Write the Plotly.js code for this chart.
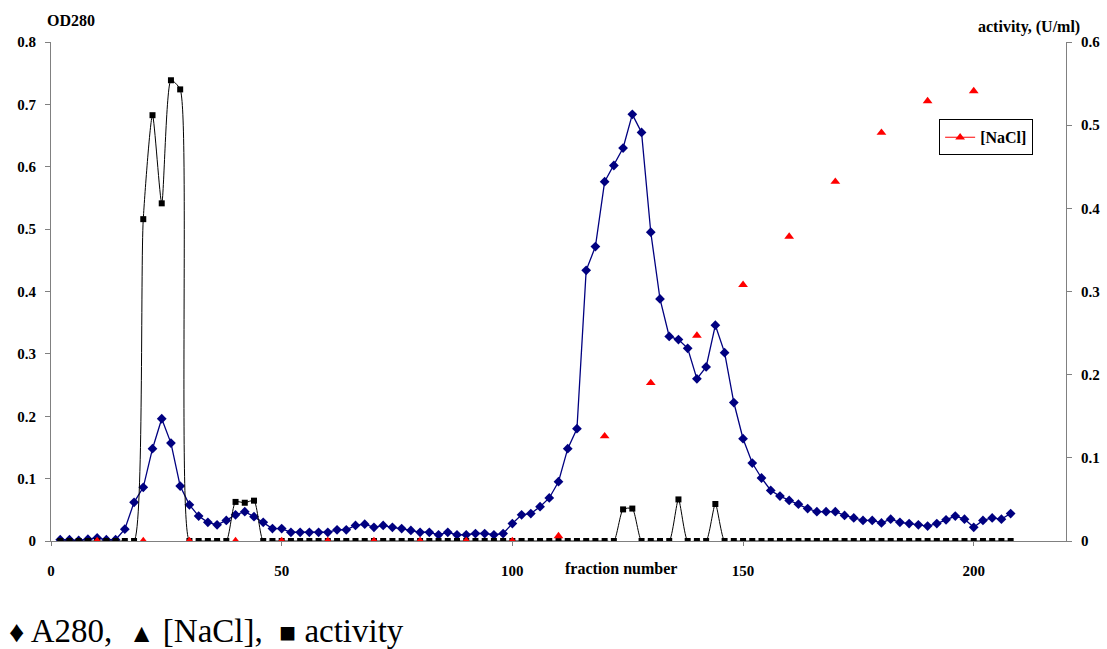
<!DOCTYPE html>
<html>
<head>
<meta charset="utf-8">
<script src="https://cdn.plot.ly/plotly-3.0.1.min.js"></script>
<style>
html,body{margin:0;padding:0;background:#fff;}
#chart{width:1107px;height:649px;}
</style>
</head>
<body>
<div id="chart"></div>
<script>
// fraction numbers
const fractions = [
  2,4,6,8,10,12,14,16,18,20,
  22,24,26,28,30,32,34,36,38,40,
  42,44,46,48,50,52,54,56,58,60,
  62,64,66,68,70,72,74,76,78,80,
  82,84,86,88,90,92,94,96,98,100,
  102,104,106,108,110,112,114,116,118,120,
  122,124,126,128,130,132,134,136,138,140,
  142,144,146,148,150,152,154,156,158,160,
  162,164,166,168,170,172,174,176,178,180,
  182,184,186,188,190,192,194,196,198,200,
  202,204,206,208
];
// A280 (OD280, left axis)
const a280 = [
  0.002,0.002,0.001,0.003,0.005,0.002,0.002,0.019,0.062,0.086,
  0.148,0.196,0.157,0.088,0.058,0.040,0.030,0.026,0.033,0.042,
  0.047,0.039,0.030,0.020,0.020,0.014,0.014,0.014,0.014,0.014,
  0.018,0.018,0.025,0.027,0.022,0.025,0.022,0.020,0.017,0.014,
  0.014,0.010,0.014,0.010,0.010,0.012,0.012,0.010,0.012,0.028,
  0.042,0.044,0.055,0.069,0.095,0.148,0.180,0.434,0.472,0.576,
  0.602,0.630,0.684,0.655,0.495,0.388,0.328,0.323,0.309,0.260,
  0.279,0.346,0.302,0.222,0.164,0.125,0.101,0.081,0.072,0.065,
  0.059,0.052,0.047,0.047,0.047,0.041,0.037,0.033,0.033,0.029,
  0.035,0.030,0.028,0.026,0.024,0.028,0.034,0.040,0.035,0.022,
  0.033,0.037,0.035,0.044
];
// activity (U/ml, right axis)
const activity = [
  0,0,0,0,0,0,0,0,0,0.387,
  0.512,0.406,0.554,0.543,0,0,0,0,0,0.047,
  0.046,0.0485,0,0,0,0,0,0,0,0,
  0,0,0,0,0,0,0,0,0,0,
  0,0,0,0,0,0,0,0,0,0,
  0,0,0,0,0,0,0,0,0,0,
  0,0.038,0.039,0,0,0,0,0.050,0,0,
  0,0.0445,0,0,0,0,0,0,0,0,
  0,0,0,0,0,0,0,0,0,0,
  0,0,0,0,0,0,0,0,0,0,
  0,0,0,0
];
// NaCl gradient (right axis scale)
const naclFractions = [10,20,30,40,50,60,70,80,90,100,110,120,130,140,150,160,170,180,190,200];
const nacl = [0,0,0,0,0,0,0,0,0,0,0.006,0.126,0.190,0.247,0.308,0.366,0.432,0.491,0.529,0.541];

const xTicks = [0,50,100,150,200];
const yTicks = [0,0.1,0.2,0.3,0.4,0.5,0.6,0.7,0.8];
const y2Ticks = [0,0.1,0.2,0.3,0.4,0.5,0.6];

const FONT = '"Liberation Serif", "Times New Roman", serif';
const tickFont = {family: FONT, size: 15, color: '#000', weight: 'bold'};

const traces = [
  {
    x: fractions, y: activity, yaxis: 'y2', name: 'activity',
    mode: 'lines+markers', showlegend: false,
    line: {color: '#000', width: 1, shape: 'spline', smoothing: 0.6},
    marker: {symbol: 'square', size: 6, color: '#000'}
  },
  {
    x: fractions, y: a280, name: 'A280',
    mode: 'lines+markers', showlegend: false,
    line: {color: '#000080', width: 1.3},
    marker: {symbol: 'diamond', size: 7.5, color: '#000080'}
  },
  {
    x: naclFractions, y: nacl, yaxis: 'y2', name: '[NaCl]',
    mode: 'markers', showlegend: false,
    marker: {symbol: 'triangle-up', size: 8.5, color: '#ff0000'}
  },
  {
    x: [null], y: [null], yaxis: 'y2', name: '[NaCl]',
    mode: 'lines+markers', showlegend: true,
    line: {color: '#ff0000', width: 1},
    marker: {symbol: 'triangle-up', size: 8.5, color: '#ff0000'}
  }
];

const layout = {
  width: 1107, height: 649,
  margin: {l: 51, r: 41, t: 42, b: 108},
  paper_bgcolor: '#fff', plot_bgcolor: 'rgba(0,0,0,0)',
  font: {family: FONT, size: 15, color: '#000'},
  showlegend: true,
  legend: {
    x: 0.875, y: 0.845, xanchor: 'left', yanchor: 'top',
    bordercolor: '#000', borderwidth: 1, bgcolor: '#fff',
    font: {family: FONT, size: 16, color: '#000', weight: 'bold'},
    itemwidth: 30, tracegroupgap: 0
  },
  xaxis: {
    range: [0, 220], tickvals: xTicks, ticktext: xTicks.map(String),
    showgrid: false, zeroline: false, showline: true, linecolor: '#808080', linewidth: 1,
    ticks: 'outside', ticklen: 4, tickcolor: '#808080',
    tickfont: tickFont, ticklabelstandoff: 12
  },
  yaxis: {
    range: [0, 0.8], tickvals: yTicks, ticktext: yTicks.map(v => v === 0 ? '0' : String(v)),
    showgrid: false, zeroline: false, showline: true, linecolor: '#808080', linewidth: 1,
    ticks: 'outside', ticklen: 5, tickcolor: '#808080',
    tickfont: tickFont, ticklabelstandoff: 6
  },
  yaxis2: {
    range: [0, 0.6], tickvals: y2Ticks, ticktext: y2Ticks.map(v => v === 0 ? '0' : String(v)),
    overlaying: 'y', side: 'right',
    showgrid: false, zeroline: false, showline: true, linecolor: '#808080', linewidth: 1,
    ticks: 'outside', ticklen: 5, tickcolor: '#808080',
    tickfont: tickFont, ticklabelstandoff: 6
  },
  annotations: [
    {text: 'OD280', xref: 'paper', yref: 'paper', x: -0.006, y: 1.043,
     xanchor: 'left', yanchor: 'middle', showarrow: false,
     font: {family: FONT, size: 16, color: '#000', weight: 'bold'}},
    {text: 'activity, (U/ml)', xref: 'paper', yref: 'paper', x: 1.016, y: 1.030,
     xanchor: 'right', yanchor: 'middle', showarrow: false,
     font: {family: FONT, size: 16, color: '#000', weight: 'bold'}},
    {text: 'fraction number', xref: 'paper', yref: 'paper', x: 0.562, y: -0.055,
     xanchor: 'center', yanchor: 'middle', showarrow: false,
     font: {family: FONT, size: 16, color: '#000', weight: 'bold'}},
    {text: '<span style="font-size:30px">♦</span> A280,  <span style="font-size:26px">▲</span> [NaCl],  <span style="font-size:28px">■</span> activity',
     xref: 'paper', yref: 'paper', x: -0.043, y: -0.18,
     xanchor: 'left', yanchor: 'middle', showarrow: false,
     font: {family: FONT, size: 33, color: '#000'}}
  ]
};

Plotly.newPlot('chart', traces, layout, {displayModeBar: false, staticPlot: true});
</script>
</body>
</html>
